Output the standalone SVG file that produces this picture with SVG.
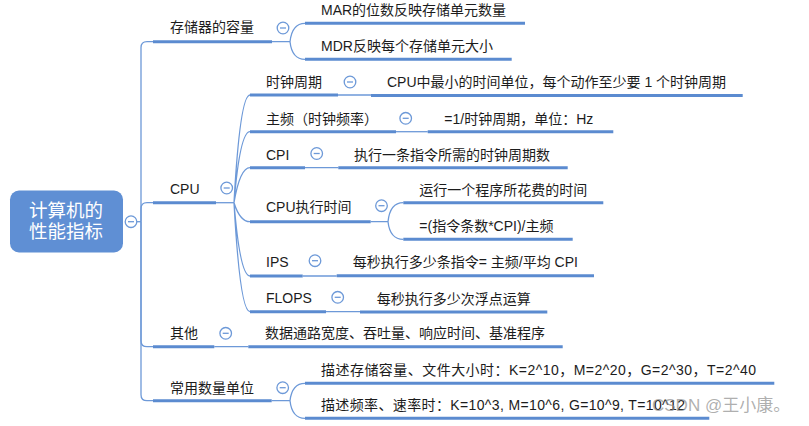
<svg xmlns="http://www.w3.org/2000/svg" width="809" height="426" viewBox="0 0 809 426">
<defs>
<style>
.t{font-family:"Liberation Sans","Noto Sans CJK SC",sans-serif;font-size:14px;fill:#1c1c1c}
.r{font-family:"Liberation Sans","Noto Sans CJK SC",sans-serif;font-size:18.5px;fill:#fff;text-anchor:middle}
.u{stroke:#5b8bd0;stroke-width:3;fill:none}
.c{stroke:#6d99d8;stroke-width:1.3;fill:none}
.w{font-family:"Liberation Sans","Noto Sans CJK SC",sans-serif;font-size:17px;fill:#8c8c8c;fill-opacity:0.7}
</style>
<g id="minus"><circle cx="0" cy="0" r="5.8" fill="#fff" stroke="#6d99d8" stroke-width="1.3"/><path d="M-3,0H3" stroke="#6d99d8" stroke-width="1.3"/></g>
</defs>
<rect width="809" height="426" fill="#fff"/>

<g id="connectors">
<path class="c" d="M137,221.7H141"/>
<path class="c" d="M141,221.7V47.7Q141,41.7 147,41.7H153"/>
<path class="c" d="M141,221.7V208.7Q141,202.7 147,202.7H153"/>
<path class="c" d="M141,221.7V340.7Q141,346.7 147,346.7H153"/>
<path class="c" d="M141,221.7V394.7Q141,400.7 147,400.7H153"/>
<path class="c" d="M272,41.7H290M290,41.7Q292,23.3 305,23.3M290,41.7Q292,59.3 305,59.3"/>
<path class="c" d="M216,202.7H234"/>
<path class="c" d="M234,202.7Q240,95 250,95M234,202.7Q240,131.7 250,131.7M234,202.7Q240,167.7 250,167.7M234,202.7Q240,221.7 250,221.7M234,202.7Q240,276 250,276M234,202.7Q240,311.7 250,311.7"/>
<path class="c" d="M338,95H371"/>
<path class="c" d="M396,131.7H427.7"/>
<path class="c" d="M305,167.7H338.3"/>
<path class="c" d="M370.7,221.7H388M388,221.7Q390,202.7 403.3,202.7M388,221.7Q390,239.3 403.3,239.3"/>
<path class="c" d="M302.7,276H336.7"/>
<path class="c" d="M326,311.7H360"/>
<path class="c" d="M214.3,346.7H248.3"/>
<path class="c" d="M271.7,400.7H290M290,400.7Q292,383.3 305,383.3M290,400.7Q292,418.3 305,418.3"/>
</g>

<g id="root">
<rect x="10" y="190.5" width="113" height="62" rx="9" fill="#5f8fd4"/>
<text class="r" x="66" y="217">计算机的</text>
<text class="r" x="66" y="238">性能指标</text>
<use href="#minus" x="131" y="221.7"/>
</g>

<g id="n-storage">
<text class="t" x="170" y="32">存储器的容量</text>
<path class="u" d="M153,41.7H272"/>
<use href="#minus" x="283" y="28"/>
</g>
<g id="n-mar">
<text class="t" x="321" y="15">MAR的位数反映存储单元数量</text>
<path class="u" d="M305,23.3H525"/>
</g>
<g id="n-mdr">
<text class="t" x="321" y="51">MDR反映每个存储单元大小</text>
<path class="u" d="M305,59.3H511.7"/>
</g>

<g id="n-cpu">
<text class="t" x="170" y="194">CPU</text>
<path class="u" d="M153,202.7H216"/>
<use href="#minus" x="226.7" y="188"/>
</g>

<g id="n-clock">
<text class="t" x="266" y="87">时钟周期</text>
<path class="u" d="M250,95H338"/>
<use href="#minus" x="350" y="82"/>
</g>
<g id="n-clock-d">
<text class="t" x="387" y="87">CPU中最小的时间单位，每个动作至少要 1 个时钟周期</text>
<path class="u" d="M371,95.5H742.7"/>
</g>

<g id="n-freq">
<text class="t" x="266" y="124">主频（时钟频率）</text>
<path class="u" d="M250,131.7H396"/>
<use href="#minus" x="405.7" y="118.3"/>
</g>
<g id="n-freq-d">
<text class="t" x="444.3" y="123.5">=1/时钟周期，单位：Hz</text>
<path class="u" d="M427.7,131.7H613.3"/>
</g>

<g id="n-cpi">
<text class="t" x="266" y="159.5">CPI</text>
<path class="u" d="M250,167.7H305"/>
<use href="#minus" x="316.7" y="153.5"/>
</g>
<g id="n-cpi-d">
<text class="t" x="354" y="160">执行一条指令所需的时钟周期数</text>
<path class="u" d="M338.3,167.7H567.7"/>
</g>

<g id="n-exec">
<text class="t" x="266" y="212">CPU执行时间</text>
<path class="u" d="M250,221.7H370.7"/>
<use href="#minus" x="381.5" y="205.7"/>
</g>
<g id="n-exec-1">
<text class="t" x="419.3" y="194.5">运行一个程序所花费的时间</text>
<path class="u" d="M403.3,202.7H603.3"/>
</g>
<g id="n-exec-2">
<text class="t" x="419.3" y="231">=(指令条数*CPI)/主频</text>
<path class="u" d="M403.3,239.3H572.7"/>
</g>

<g id="n-ips">
<text class="t" x="266" y="267">IPS</text>
<path class="u" d="M250,276H302.7"/>
<use href="#minus" x="315" y="260.7"/>
</g>
<g id="n-ips-d">
<text class="t" x="352.7" y="266.5">每秒执行多少条指令= 主频/平均 CPI</text>
<path class="u" d="M336.7,275.8H594"/>
</g>

<g id="n-flops">
<text class="t" x="266" y="303">FLOPS</text>
<path class="u" d="M250,311.7H326"/>
<use href="#minus" x="337.7" y="297.3"/>
</g>
<g id="n-flops-d">
<text class="t" x="376.7" y="303.5">每秒执行多少次浮点运算</text>
<path class="u" d="M360,312H547.3"/>
</g>

<g id="n-other">
<text class="t" x="170" y="338">其他</text>
<path class="u" d="M153,346.7H214.3"/>
<use href="#minus" x="225.7" y="333.3"/>
</g>
<g id="n-other-d">
<text class="t" x="265" y="338">数据通路宽度、吞吐量、响应时间、基准程序</text>
<path class="u" d="M248.3,346.7H562.7"/>
</g>

<g id="n-units">
<text class="t" x="170" y="392.5">常用数量单位</text>
<path class="u" d="M153,400.7H271.7"/>
<use href="#minus" x="282.7" y="387.7"/>
</g>
<g id="n-units-1">
<text class="t" x="321" y="374.5" textLength="435" lengthAdjust="spacing">描述存储容量、文件大小时：K=2^10，M=2^20，G=2^30，T=2^40</text>
<path class="u" d="M305,383.3H774.3"/>
</g>
<g id="n-units-2">
<text class="t" x="321" y="410" textLength="364" lengthAdjust="spacing">描述频率、速率时：K=10^3, M=10^6, G=10^9, T=10^12</text>
<path class="u" d="M305,418.3H709.3"/>
</g>

<text class="w" x="652" y="411">CSDN @王小康。</text>
</svg>
